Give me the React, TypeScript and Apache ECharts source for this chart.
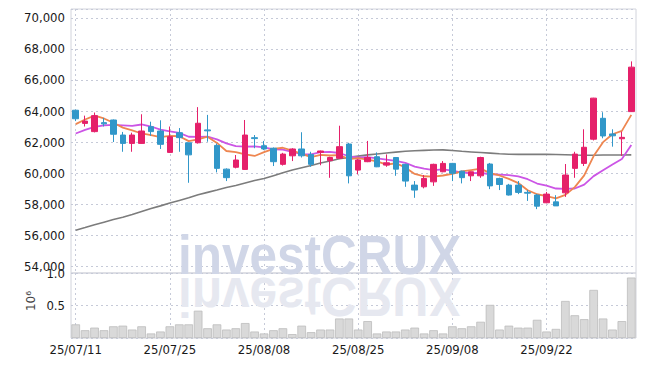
import React, { useEffect, useRef } from 'react';
import * as echarts from 'echarts';

const dates = [
  '25/07/11', '25/07/14', '25/07/15', '25/07/16', '25/07/17', '25/07/18', '25/07/21', '25/07/22', '25/07/23', '25/07/24',
  '25/07/25', '25/07/28', '25/07/29', '25/07/30', '25/07/31', '25/08/01', '25/08/04', '25/08/05', '25/08/06', '25/08/07',
  '25/08/08', '25/08/11', '25/08/12', '25/08/13', '25/08/14', '25/08/18', '25/08/19', '25/08/20', '25/08/21', '25/08/22',
  '25/08/25', '25/08/26', '25/08/27', '25/08/28', '25/08/29', '25/09/01', '25/09/02', '25/09/03', '25/09/04', '25/09/05',
  '25/09/08', '25/09/09', '25/09/10', '25/09/11', '25/09/12', '25/09/15', '25/09/16', '25/09/17', '25/09/18', '25/09/19',
  '25/09/22', '25/09/23', '25/09/24', '25/09/25', '25/09/26', '25/09/29', '25/09/30', '25/10/01', '25/10/02', '25/10/10',
];

const opens = [
  64050, 63200, 62670, 63250, 63420, 62450, 61910, 61910, 62990, 62710,
  61330, 62600, 61950, 61950, 62780, 61780, 60250, 60370, 60230, 62280,
  61760, 61600, 60560, 61110, 61550, 61200, 61330, 60800, 60950, 61870,
  60190, 60730, 61050, 60510, 61000, 60560, 59220, 59110, 59430, 60080,
  60620, 60120, 59820, 59820, 60580, 59650, 59220, 59220, 58750, 58580,
  58080, 58140, 58720, 60300, 60620, 62180, 63530, 62520, 62210, 63960,
];
const closes = [
  63500, 63350, 63700, 63170, 62500, 61910, 62450, 62710, 62670, 61850,
  62340, 62280, 61170, 63210, 62720, 60300, 59700, 60840, 62450, 62220,
  61550, 60730, 61220, 61550, 61110, 60560, 61420, 61000, 61700, 59820,
  60840, 61000, 60400, 60660, 60250, 59480, 58900, 59650, 60560, 60620,
  59980, 59700, 60080, 61000, 59170, 59260, 58580, 58750, 58700, 57860,
  58640, 57880, 59870, 61220, 61660, 64830, 62390, 62400, 62300, 66830,
];
const lows = [
  63350, 63000, 62620, 63000, 62000, 61370, 61370, 61880, 62400, 61550,
  61300, 61370, 59370, 61900, 62020, 60040, 59480, 60300, 60200, 61600,
  61480, 60450, 60480, 60770, 61000, 60400, 60500, 59690, 60900, 59330,
  59910, 60700, 60380, 60400, 59820, 59110, 58400, 59010, 59170, 60050,
  59480, 59330, 59480, 59690, 58960, 58900, 58550, 58640, 58200, 57670,
  58050, 57880, 58460, 59690, 60450, 62100, 62240, 61700, 61100, 63950,
];
const highs = [
  64080, 63700, 63900, 63550, 63450, 62650, 62600, 63790, 63310, 63400,
  63000, 62900, 61950, 64250, 63750, 61900, 60300, 61160, 63420, 62450,
  62070, 61650, 61300, 61600, 62630, 61370, 61450, 61050, 63050, 61950,
  60900, 62070, 61330, 61200, 61000, 60600, 59480, 59870, 60600, 60770,
  60650, 60150, 60100, 61050, 60650, 59700, 59300, 59480, 58900, 58650,
  58780, 58570, 60580, 61370, 62820, 64850, 63920, 62820, 62670, 67200,
];

const ma5 = [
  63150, 63450, 63700, 63520, 63240, 62930, 62750, 62550, 62450, 62320,
  62400, 62370, 62060, 62170, 62340, 61940, 61420, 61350, 61200, 61100,
  61350, 61560, 61630, 61450, 61230, 61030, 61170, 61130, 61160, 60900,
  60960, 60870, 60750, 60540, 60630, 60360, 59940, 59790, 59770, 59840,
  59940, 60100, 60190, 60280, 59990, 59840, 59620, 59350, 58890, 58630,
  58510, 58370, 58590, 59090, 59850, 61090, 61990, 62500, 62720, 63750,
];
const ma10 = [
  62550, 62780, 62970, 63070, 63100, 63070, 63040, 63130, 63000, 62800,
  62690, 62590, 62340, 62330, 62340, 62170, 61910, 61740, 61700, 61720,
  61650, 61520, 61510, 61370, 61220, 61200, 61350, 61360, 61290, 61080,
  61010, 61020, 60950, 60870, 60780, 60660, 60410, 60280, 60180, 60230,
  60160, 60030, 59990, 60010, 59920, 59890, 59860, 59780, 59600, 59320,
  59180, 59000, 58980, 59000, 59250, 59800, 60180, 60550, 60910, 61800,
];
const maLong = [
  56310, 56480, 56660, 56830, 57000, 57150, 57330, 57520, 57710, 57880,
  58060, 58230, 58400, 58600, 58750, 58900, 59060, 59200, 59360, 59520,
  59650, 59830, 60010, 60190, 60340, 60490, 60640, 60780, 60920, 61010,
  61090, 61170, 61230, 61290, 61350, 61400, 61440, 61460, 61480, 61490,
  61450, 61400, 61360, 61320, 61280, 61240, 61210, 61200, 61200, 61200,
  61200, 61190, 61180, 61160, 61150, 61150, 61160, 61160, 61160, 61170,
];

const volumes = [
  210000, 120000, 160000, 120000, 180000, 190000, 130000, 180000, 70000, 100000,
  180000, 210000, 210000, 420000, 150000, 210000, 130000, 150000, 230000, 100000,
  70000, 120000, 150000, 60000, 190000, 90000, 130000, 130000, 300000, 300000,
  130000, 260000, 70000, 100000, 100000, 130000, 160000, 70000, 120000, 70000,
  180000, 150000, 180000, 250000, 510000, 130000, 190000, 160000, 160000, 280000,
  100000, 140000, 570000, 350000, 290000, 740000, 300000, 130000, 260000, 930000,
];

const FONT = "'DejaVu Sans Condensed', 'DejaVu Sans', sans-serif";
const GRID_LINE = { color: '#c6cad8', type: [2, 3] as number[], width: 1 };
const UP = '#e5206a';
const DOWN = '#3197c9';

export default function App() {
  const ref = useRef<HTMLDivElement>(null);

  useEffect(() => {
    const chart = echarts.init(ref.current!, null, { renderer: 'svg' });
    const candles = dates.map((_, i) => [opens[i], closes[i], lows[i], highs[i]]);

    const option: any = {
      animation: false,
      backgroundColor: '#ffffff',
      grid: [
        { left: 71, right: 9, top: 9, height: 264, show: true, borderColor: '#d2d4dc', borderWidth: 1 },
        { left: 71, right: 9, top: 273, height: 65, show: true, borderColor: '#d2d4dc', borderWidth: 1 },
      ],
      xAxis: [
        {
          type: 'category', gridIndex: 0, data: dates, boundaryGap: true,
          axisLine: { show: false }, axisTick: { show: false }, axisLabel: { show: false },
          splitLine: { show: true, interval: 9, alignWithLabel: true, lineStyle: GRID_LINE },
        },
        {
          type: 'category', gridIndex: 1, data: dates, boundaryGap: true,
          axisLine: { show: false }, axisTick: { show: false },
          axisLabel: { show: true, interval: 9, fontSize: 13, color: '#1a1a1a', margin: 5, fontFamily: FONT },
          splitLine: { show: true, interval: 9, alignWithLabel: true, lineStyle: GRID_LINE },
        },
      ],
      yAxis: [
        {
          type: 'value', gridIndex: 0, min: 53550, max: 70580, splitNumber: 8, scale: true,
          axisLine: { show: false }, axisTick: { show: false },
          axisLabel: {
            fontSize: 13, color: '#1a1a1a', margin: 6, fontFamily: FONT,
            formatter: (v: number) => (Math.abs(v % 2000) < 1 ? v.toLocaleString('en-US') : ''),
          },
          splitLine: { show: true, lineStyle: GRID_LINE },
        },
        {
          type: 'value', gridIndex: 1, min: 0, max: 1000000, interval: 500000,
          axisLine: { show: false }, axisTick: { show: false },
          axisLabel: {
            fontSize: 13, color: '#1a1a1a', margin: 6, fontFamily: FONT,
            formatter: (v: number) => (v === 0 ? '' : (v / 1e6).toFixed(1)),
          },
          splitLine: { show: true, lineStyle: GRID_LINE },
        },
      ],
      graphic: [
        {
          type: 'text', x: 178, y: 255, z: 1, scaleX: 0.9, silent: true,
          style: { text: 'investCRUX', font: "bold 55px 'Liberation Sans', Arial, sans-serif", fill: '#d0d6e7', verticalAlign: 'middle' },
        },
        {
          type: 'text', x: 178, y: 297, z: 1, scaleX: 0.9, scaleY: -1, silent: true,
          style: { text: 'investCRUX', font: "bold 55px 'Liberation Sans', Arial, sans-serif", fill: '#e6e8f0', verticalAlign: 'middle' },
        },
        {
          type: 'text', x: 31, y: 301, rotation: Math.PI / 2, silent: true,
          style: { text: '10⁶', font: "12px 'DejaVu Sans', sans-serif", fill: '#444', align: 'center', verticalAlign: 'middle' },
        },
      ],
      series: [
        {
          name: 'MA Long', type: 'line', xAxisIndex: 0, yAxisIndex: 0, data: maLong, showSymbol: false,
          lineStyle: { color: '#7c7c7c', width: 1.6 }, z: 2,
        },
        {
          name: 'MA10', type: 'line', xAxisIndex: 0, yAxisIndex: 0, data: ma10, showSymbol: false,
          lineStyle: { color: '#cc55e6', width: 1.8 }, z: 2,
        },
        {
          name: 'MA5', type: 'line', xAxisIndex: 0, yAxisIndex: 0, data: ma5, showSymbol: false,
          lineStyle: { color: '#ee8650', width: 1.8 }, z: 2,
        },
        {
          name: 'Price', type: 'candlestick', xAxisIndex: 0, yAxisIndex: 0, data: candles, barWidth: 6, z: 3,
          itemStyle: { color: UP, color0: DOWN, borderColor: UP, borderColor0: DOWN, borderWidth: 1 },
        },
        {
          name: 'Volume', type: 'bar', xAxisIndex: 1, yAxisIndex: 1, data: volumes, barCategoryGap: '8%', z: 2,
          itemStyle: { color: '#d9d9d9', borderColor: '#bdbdbd', borderWidth: 0.8 },
        },
      ],
    };

    chart.setOption(option);
    return () => chart.dispose();
  }, []);

  return <div ref={ref} style={{ position: 'absolute', left: 0, top: 0, width: 645, height: 366 }} />;
}
